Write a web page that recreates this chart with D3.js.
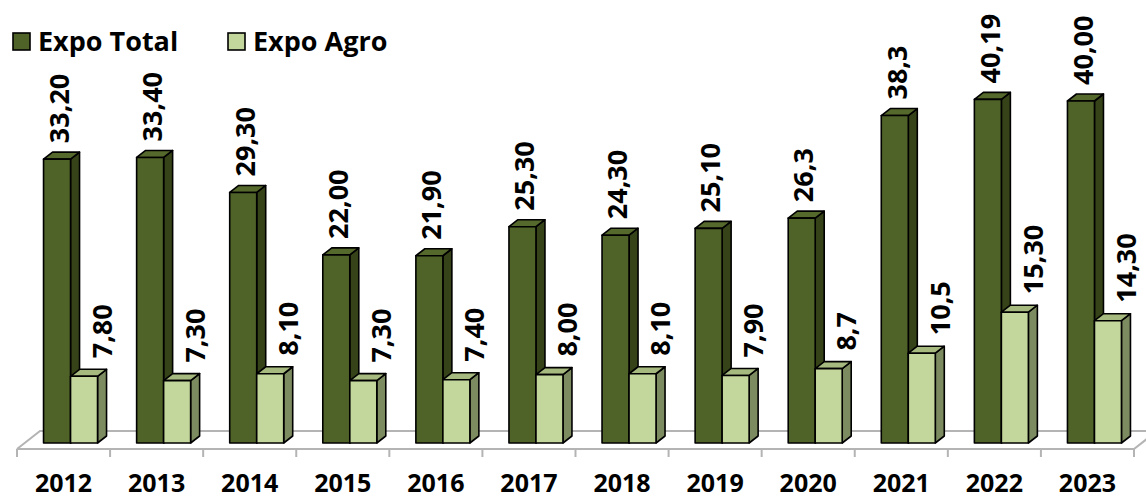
<!DOCTYPE html>
<html>
<head>
<meta charset="utf-8">
<script src="https://cdn.jsdelivr.net/npm/d3@7/dist/d3.min.js"></script>
<style>
  html, body { margin: 0; padding: 0; background: #ffffff; }
  svg { display: block; }
  text { font-family: "Open Sans", "Liberation Sans", sans-serif; font-weight: 700; fill: #000; }
</style>
</head>
<body>
<svg id="chart" width="1146" height="499"></svg>
<script>
// Exportações por ano (bilhões de US$)
const years = ["2012", "2013", "2014", "2015", "2016", "2017", "2018", "2019", "2020", "2021", "2022", "2023"];
const expoTotal = [33.20, 33.40, 29.30, 22.00, 21.90, 25.30, 24.30, 25.10, 26.3, 38.3, 40.19, 40.00];
const expoAgro = [7.80, 7.30, 8.10, 7.30, 7.40, 8.00, 8.10, 7.90, 8.7, 10.5, 15.30, 14.30];
// casas decimais mostradas em cada rótulo
const totalDecimals = [2, 2, 2, 2, 2, 2, 2, 2, 1, 1, 2, 2];
const agroDecimals = [2, 2, 2, 2, 2, 2, 2, 2, 1, 1, 2, 2];
const seriesNames = ["Expo Total", "Expo Agro"];

const series = [
  { name: seriesNames[0], values: expoTotal, decimals: totalDecimals,
    front: "#4f6228", side: "#364319", top: "#56692c", labelDx: 2, labelGap: 16 },
  { name: seriesNames[1], values: expoAgro, decimals: agroDecimals,
    front: "#c3d69b", side: "#7d8c60", top: "#a6b97f", labelDx: 18, labelGap: 18 }
];

const svg = d3.select("#chart");

// floor geometry (front edge) and oblique depth
const floorFrontY = 449;
const floorDepth = { dx: 23, dy: -18 };
const barShift = { dx: 7, dy: -6 };      // bar front plane behind floor front edge
const barDepth = { dx: 9, dy: -7 };      // bar thickness in depth

const x0 = d3.scaleBand().domain(years).range([17, 1134]).paddingInner(0).paddingOuter(0);
const groupW = 54;
const x1 = d3.scaleBand().domain(seriesNames).range([0, groupW]);
const baseY = floorFrontY + barShift.dy;
const y = d3.scaleLinear().domain([0, 45]).range([baseY, baseY - 45 * 8.55]);

// floor
const floor = svg.append("g").attr("fill", "none").attr("stroke", "#b4b4b4").attr("stroke-width", 2);
const [fx0, fx1] = x0.range();
floor.append("path").attr("d",
  `M${fx0},${floorFrontY} L${fx0 + floorDepth.dx},${floorFrontY + floorDepth.dy} L${fx1 + floorDepth.dx + 20},${floorFrontY + floorDepth.dy}`);
floor.append("path").attr("d",
  `M${fx0},${floorFrontY} L${fx1},${floorFrontY} L${fx1 + floorDepth.dx},${floorFrontY + floorDepth.dy}`);

// x axis along the floor front edge
const xAxis = d3.axisBottom(x0).tickSize(0).tickPadding(0);
const axisG = svg.append("g").attr("transform", `translate(0,${floorFrontY})`).call(xAxis);
axisG.select(".domain").remove();
axisG.selectAll("text")
  .attr("y", 43).attr("dy", null)
  .style("font-size", "25px").style("font-family", null);
// boundary ticks between categories
const bounds = years.map(d => x0(d)).concat([x0(years[years.length - 1]) + x0.bandwidth()]);
svg.append("g").selectAll("line").data(bounds).join("line")
  .attr("x1", d => d).attr("x2", d => d)
  .attr("y1", floorFrontY).attr("y2", floorFrontY + 8)
  .attr("stroke", "#b4b4b4").attr("stroke-width", 2);

// bars
const bars = svg.append("g").attr("stroke", "#000").attr("stroke-width", 1.6).attr("stroke-linejoin", "round");
const labelData = [];
years.forEach((yr, i) => {
  series.forEach(s => {
    const v = s.values[i];
    const xl = x0(yr) + (x0.bandwidth() - groupW) / 2 + x1(s.name) + barShift.dx;
    const xr = xl + x1.bandwidth();
    const yt = y(v), yb = y(0);
    const dx = barDepth.dx, dy = barDepth.dy;
    bars.append("polygon")
      .attr("points", [[xr, yb], [xr + dx, yb + dy], [xr + dx, yt + dy], [xr, yt]].join(" "))
      .attr("fill", s.side);
    bars.append("polygon")
      .attr("points", [[xl, yt], [xr, yt], [xr + dx, yt + dy], [xl + dx, yt + dy]].join(" "))
      .attr("fill", s.top);
    bars.append("rect")
      .attr("x", xl).attr("y", yt).attr("width", xr - xl).attr("height", yb - yt)
      .attr("fill", s.front);
    labelData.push({
      x: (xl + xr) / 2 + s.labelDx,
      y: yt - s.labelGap,
      text: d3.format(`.${s.decimals[i]}f`)(v).replace(".", ",")
    });
  });
});

// value labels, rotated
svg.append("g").selectAll("text").data(labelData).join("text")
  .attr("transform", d => `translate(${d.x},${d.y}) rotate(-90)`)
  .attr("dy", "0.36em")
  .style("font-size", "27px")
  .text(d => d.text);

// legend
const legend = svg.append("g");
const legendX = [13, 228];
series.forEach((s, i) => {
  const g = legend.append("g").attr("transform", `translate(${legendX[i]},33)`);
  g.append("rect").attr("width", 17).attr("height", 17)
    .attr("fill", s.front).attr("stroke", "#000").attr("stroke-width", 1.6);
  g.append("text").attr("x", 25).attr("y", 18).style("font-size", "27px").text(s.name);
});
</script>
</body>
</html>
